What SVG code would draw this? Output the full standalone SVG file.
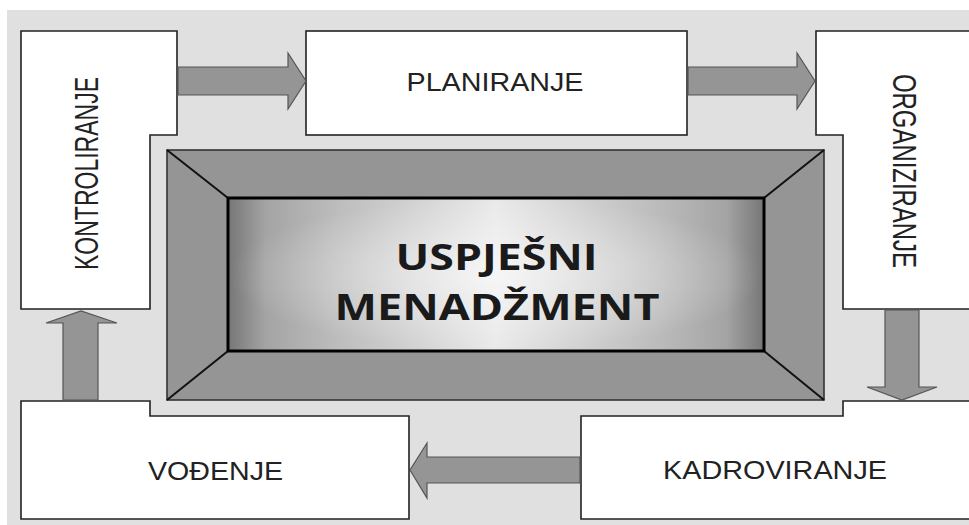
<svg xmlns="http://www.w3.org/2000/svg" width="969" height="525" viewBox="0 0 969 525">
<defs>
<style>
.box{fill:#ffffff;stroke:#222222;stroke-width:1.6}
.arrow{fill:#959595;stroke:#555555;stroke-width:1.2}
.lbl{font-family:"Liberation Sans",Arial,sans-serif;fill:#222222;text-anchor:middle}
.ctr{font-family:"Open Sans","Liberation Sans",sans-serif;font-weight:bold;fill:#1a1a1a;text-anchor:middle}
</style>
<linearGradient id="inner" x1="0" y1="0" x2="1" y2="0">
<stop offset="0" stop-color="#767676"/>
<stop offset="0.07" stop-color="#a4a4a4"/>
<stop offset="0.2" stop-color="#bcbcbc"/>
<stop offset="0.5" stop-color="#e9e9e9"/>
<stop offset="0.8" stop-color="#bcbcbc"/>
<stop offset="0.93" stop-color="#a4a4a4"/>
<stop offset="1" stop-color="#767676"/>
</linearGradient>
<radialGradient id="glow" cx="0.5" cy="0.5" r="0.5">
<stop offset="0" stop-color="#ffffff" stop-opacity="0.6"/>
<stop offset="1" stop-color="#ffffff" stop-opacity="0"/>
</radialGradient>
</defs>
<rect x="0" y="0" width="969" height="525" fill="#ffffff"/>
<rect x="7" y="10" width="962" height="515" fill="#e0e0e0"/>

<g id="center">
<rect x="167" y="150" width="657" height="250" fill="#959595" stroke="#333333" stroke-width="1.6"/>
<g stroke="#111111" stroke-width="2">
<line x1="167" y1="150" x2="228" y2="198"/>
<line x1="824" y1="150" x2="764" y2="198"/>
<line x1="167" y1="400" x2="228" y2="351"/>
<line x1="824" y1="400" x2="764" y2="351"/>
</g>
<rect x="228" y="198" width="536" height="153" fill="url(#inner)"/>
<rect x="228" y="198" width="536" height="153" fill="url(#glow)"/>
<rect x="228" y="198" width="536" height="153" fill="none" stroke="#000000" stroke-width="3"/>
<text class="ctr" x="496.5" y="270" font-size="35" textLength="202" lengthAdjust="spacingAndGlyphs">USPJEŠNI</text>
<text class="ctr" x="497" y="320" font-size="35" textLength="325" lengthAdjust="spacingAndGlyphs">MENADŽMENT</text>
</g>

<g id="kontroliranje">
<polygon class="box" points="21,31 177,31 177,135 150,135 150,309 21,309"/>
<text class="lbl" transform="translate(98,173.5) rotate(-90)" font-size="34" textLength="193" lengthAdjust="spacingAndGlyphs">KONTROLIRANJE</text>
</g>

<g id="planiranje">
<rect class="box" x="306" y="31" width="381" height="104"/>
<text class="lbl" x="495" y="90.5" font-size="26" textLength="177" lengthAdjust="spacingAndGlyphs">PLANIRANJE</text>
</g>

<g id="organiziranje">
<polygon class="box" points="816,31 975,31 975,309 843,309 843,135 816,135"/>
<text class="lbl" transform="translate(893,171) rotate(90)" font-size="34" textLength="194" lengthAdjust="spacingAndGlyphs">ORGANIZIRANJE</text>
</g>

<g id="kadroviranje">
<polygon class="box" points="581,416 843,416 843,401 975,401 975,519 581,519"/>
<text class="lbl" x="775" y="479" font-size="26" textLength="224" lengthAdjust="spacingAndGlyphs">KADROVIRANJE</text>
</g>

<g id="vodjenje">
<polygon class="box" points="21,401 150,401 150,416 409,416 409,519 21,519"/>
<text class="lbl" x="215.5" y="480" font-size="26" textLength="135" lengthAdjust="spacingAndGlyphs">VOĐENJE</text>
</g>

<g id="connectors">
<polygon class="arrow" points="178,67 288,67 288,53 306,81 288,109 288,95 178,95"/>
<polygon class="arrow" points="688,67 797,67 797,53 815,81 797,109 797,95 688,95"/>
<polygon class="arrow" points="885,310 919,310 919,387 937,387 902,400 867,387 885,387"/>
<polygon class="arrow" points="580,457 427,457 427,443 410,470 427,498 427,483 580,483"/>
<polygon class="arrow" points="63,400 63,323 46,323 81,311 117,323 98,323 98,400"/>
</g>
</svg>
